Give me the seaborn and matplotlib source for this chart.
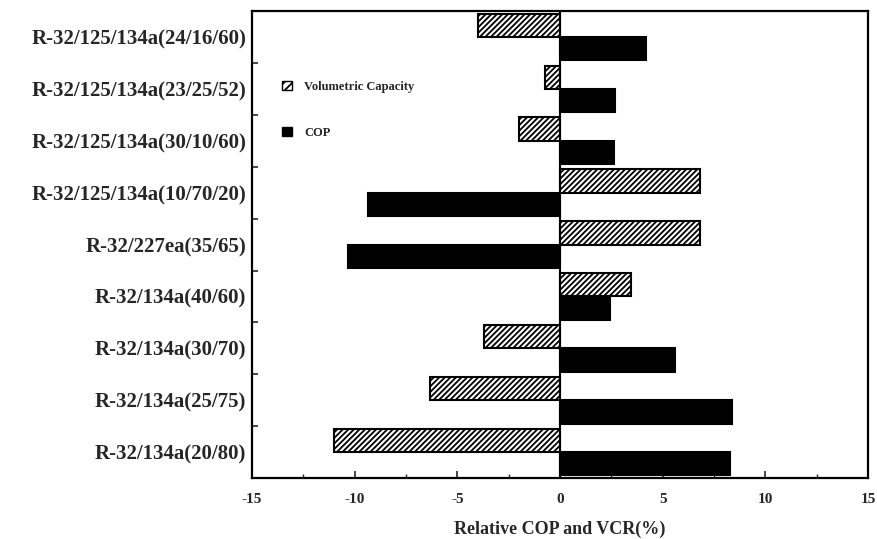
import numpy as np
import pandas as pd
import seaborn as sns
import matplotlib
matplotlib.use("Agg")
import matplotlib.pyplot as plt
from matplotlib.patches import Patch
from matplotlib.ticker import MultipleLocator, FixedLocator

# --- data ---
REFRIGERANTS = [
    "R-32/125/134a(24/16/60)",
    "R-32/125/134a(23/25/52)",
    "R-32/125/134a(30/10/60)",
    "R-32/125/134a(10/70/20)",
    "R-32/227ea(35/65)",
    "R-32/134a(40/60)",
    "R-32/134a(30/70)",
    "R-32/134a(25/75)",
    "R-32/134a(20/80)",
]
VCR = [-4.0, -0.75, -2.0, 6.8, 6.8, 3.45, -3.7, -6.35, -11.0]
COP = [4.2, 2.7, 2.65, -9.35, -10.3, 2.45, 5.6, 8.4, 8.3]
SERIES = ["Volumetric Capacity", "COP"]
X_TICKS = [-15, -10, -5, 0, 5, 10, 15]

HATCH = "//////"
SERIF = "Liberation Serif"

df = pd.DataFrame({
    "refrigerant": REFRIGERANTS * 2,
    "value": VCR + COP,
    "metric": [SERIES[0]] * len(VCR) + [SERIES[1]] * len(COP),
})

sns.set_style("ticks")
plt.rcParams["font.family"] = [SERIF, "DejaVu Serif"]
plt.rcParams["hatch.linewidth"] = 1.3

fig = plt.figure(figsize=(8.78, 5.39), dpi=100)
ax = fig.add_axes([0.287, 0.113, 0.7016, 0.8665])

sns.barplot(data=df, y="refrigerant", x="value", hue="metric",
            hue_order=SERIES, order=REFRIGERANTS, orient="h",
            palette={SERIES[0]: "white", SERIES[1]: "black"},
            edgecolor="black", linewidth=1.5, width=0.9,
            legend=False, ax=ax)

# hatch the volumetric capacity bars
for bar in ax.containers[0]:
    bar.set_hatch(HATCH)

ax.axvline(0, color="black", lw=1.5, zorder=3)

ax.set_xlim(-15, 15)
ax.set_ylim(len(REFRIGERANTS) - 0.5, -0.5)

# x ticks: inward, majors every 5, minors in between
ax.xaxis.set_major_locator(FixedLocator(X_TICKS))
ax.xaxis.set_minor_locator(MultipleLocator(2.5))
ax.set_xticklabels([str(t) for t in X_TICKS], fontsize=11, fontweight="bold")
ax.tick_params(axis="x", which="major", direction="in", length=5, width=1.2,
               pad=11, top=False)
ax.tick_params(axis="x", which="minor", direction="in", length=3, width=1.0,
               top=False)

# y ticks: labels at categories, tick marks at group boundaries
ax.yaxis.set_minor_locator(FixedLocator(np.arange(0.5, len(REFRIGERANTS) - 0.5, 1)))
ax.tick_params(axis="y", which="major", length=0, pad=4, labelsize=15)
ax.tick_params(axis="y", which="minor", direction="in", length=4, width=1.2)
for lbl in ax.get_yticklabels():
    lbl.set_fontweight("bold")

ax.set_ylabel("")
ax.set_xlabel("Relative COP and VCR(%)", fontsize=13, fontweight="bold",
              labelpad=10)

for side in ["left", "right", "top", "bottom"]:
    ax.spines[side].set_visible(True)
    ax.spines[side].set_linewidth(1.6)
    ax.spines[side].set_color("black")

handles = [
    Patch(facecolor="white", edgecolor="black", hatch="////", label=SERIES[0]),
    Patch(facecolor="black", edgecolor="black", label=SERIES[1]),
]
ax.legend(handles=handles, loc="upper left", bbox_to_anchor=(0.03, 0.875),
          frameon=False, handlelength=0.8, handleheight=0.8,
          handletextpad=1.0, labelspacing=2.7,
          prop={"family": SERIF, "size": 9, "weight": "bold"})

fig.savefig("out.png", dpi=100)
